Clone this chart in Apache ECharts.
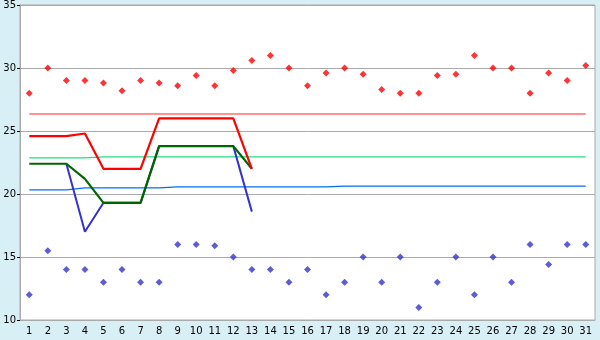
<!DOCTYPE html>
<html>
<head>
<meta charset="utf-8">
<script src="https://cdn.jsdelivr.net/npm/echarts@6/dist/echarts.min.js"></script>
<style>html,body{margin:0;padding:0;background:#d9eff6;}#c{width:600px;height:340px;}</style>
</head>
<body>
<div id="c"></div>
<script>
var categories = ['1','2','3','4','5','6','7','8','9','10','11','12','13','14','15','16','17','18','19','20','21','22','23','24','25','26','27','28','29','30','31'];
var highPoints = [28.0,30.0,29.0,29.0,28.8,28.2,29.0,28.8,28.6,29.4,28.6,29.8,30.6,31.0,30.0,28.6,29.6,30.0,29.5,28.3,28.0,28.0,29.4,29.5,31.0,30.0,30.0,28.0,29.6,29.0,30.2];
var lowPoints = [12.0,15.5,14.0,14.0,13.0,14.0,13.0,13.0,16.0,16.0,15.9,15.0,14.0,14.0,13.0,14.0,12.0,13.0,15.0,13.0,15.0,11.0,13.0,15.0,12.0,15.0,13.0,16.0,14.4,16.0,16.0];
var redLine = [24.6,24.6,24.6,24.8,22.0,22.0,22.0,26.0,26.0,26.0,26.0,26.0,22.0];
var greenLine = [22.4,22.4,22.4,21.2,19.3,19.3,19.3,23.8,23.8,23.8,23.8,23.8,22.0];
var blueLine = ['-','-',22.4,17.0,19.3,19.3,19.3,23.8,23.8,23.8,23.8,23.8,18.6];
var salmonRef = [26.35,26.35,26.35,26.35,26.35,26.35,26.35,26.35,26.35,26.35,26.35,26.35,26.35,26.35,26.35,26.35,26.35,26.35,26.35,26.35,26.35,26.35,26.35,26.35,26.35,26.35,26.35,26.35,26.35,26.35,26.35];
var lightGreenRef = [22.87,22.87,22.87,22.87,22.95,22.95,22.95,22.95,22.95,22.95,22.95,22.95,22.95,22.95,22.95,22.95,22.95,22.95,22.95,22.95,22.95,22.95,22.95,22.95,22.95,22.95,22.95,22.95,22.95,22.95,22.95];
var lightBlueRef = [20.33,20.33,20.33,20.48,20.48,20.48,20.48,20.48,20.56,20.56,20.56,20.56,20.56,20.56,20.56,20.56,20.56,20.63,20.63,20.63,20.63,20.63,20.63,20.63,20.63,20.63,20.63,20.63,20.63,20.63,20.63];
var yTicks = {min: 10, max: 35, step: 5};

var chart = echarts.init(document.getElementById('c'), null, {renderer: 'canvas'});
function line(data, color, width, z) {
  return {type: 'line', data: data, symbol: 'none', silent: true, animation: false, z: z,
    lineStyle: {color: color, width: width}};
}
function pts(data, color) {
  return {type: 'scatter', data: data, symbol: 'diamond', symbolSize: 7, animation: false, z: 10,
    itemStyle: {color: color}};
}
chart.setOption({
  backgroundColor: '#d9eff6',
  animation: false,
  grid: {left: 20, right: 5, top: 5, bottom: 20, show: true, backgroundColor: '#ffffff', borderColor: '#aaaaaa', borderWidth: 1},
  xAxis: {
    type: 'category', data: categories, boundaryGap: true,
    axisLine: {lineStyle: {color: '#aaaaaa'}},
    axisTick: {alignWithLabel: true, length: 5, lineStyle: {color: '#000'}},
    axisLabel: {color: '#000', fontSize: 10, fontFamily: 'DejaVu Sans', margin: 6, interval: 0},
    splitLine: {show: false}
  },
  yAxis: {
    type: 'value', min: yTicks.min, max: yTicks.max, interval: yTicks.step,
    axisLine: {show: true, lineStyle: {color: '#aaaaaa'}},
    axisTick: {show: true, length: 3, lineStyle: {color: '#000'}},
    axisLabel: {color: '#000', fontSize: 10, fontFamily: 'DejaVu Sans', margin: 4},
    splitLine: {lineStyle: {color: '#aaaaaa'}}
  },
  series: [
    line(salmonRef, '#ff7070', 1.3, 2),
    line(lightGreenRef, '#22dd80', 1.3, 2),
    line(lightBlueRef, '#0070ee', 1.3, 2),
    line(blueLine, '#3333cc', 2, 3),
    line(greenLine, '#006600', 2.2, 4),
    line(redLine, '#ff0000', 2.2, 5),
    pts(highPoints, '#ff0000'),
    pts(lowPoints, '#3333cc')
  ]
});
</script>
</body>
</html>
